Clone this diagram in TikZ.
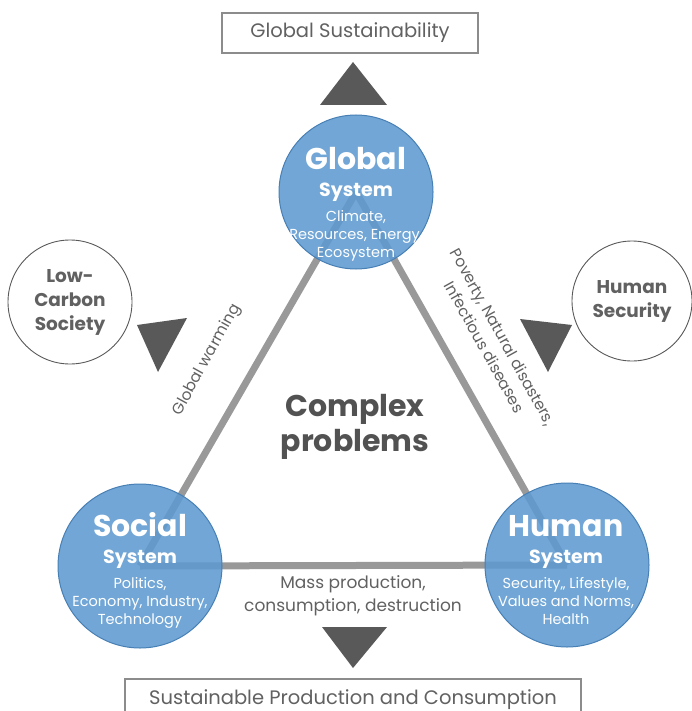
\documentclass[tikz,border=0pt]{standalone}
\usepackage{fontspec}
\setmainfont{Poppins}
\usepackage{xcolor}
\definecolor{SystemBlue}{RGB}{93,154,208}
\definecolor{SystemEdge}{RGB}{72,128,182}
\colorlet{LinkGray}{black!40}
\colorlet{ArrowGray}{black!65}
\colorlet{TextGray}{black!62}
\colorlet{FrameGray}{black!45}
\usetikzlibrary{backgrounds}

\tikzset{
  system/.style={circle, draw=SystemEdge, line width=1pt, fill=SystemBlue,
    fill opacity=0.88, minimum size=#1, inner sep=0pt},
  systemtext/.style={text=white, align=center, font=\fontsize{14.5}{18}\selectfont},
  goal/.style={circle, draw=ArrowGray, line width=0.9pt, fill=white,
    minimum size=#1, inner sep=0pt, text=TextGray, align=center,
    font=\bfseries\fontsize{18.5}{24}\selectfont},
  outcome/.style={draw=FrameGray, line width=1.6pt, fill=white,
    text=TextGray, font=\fontsize{19.5}{22}\selectfont},
  link/.style={draw=LinkGray, line width=7pt},
  edgetext/.style={text=TextGray, align=center, font=\fontsize{15.5}{21}\selectfont},
}

\newcommand{\systemlabel}[2]{%
  {\bfseries\fontsize{30}{30}\selectfont #1}\\[9pt]
  {\bfseries\fontsize{19}{19}\selectfont System}\\[7pt]
  #2}

\begin{document}
\begin{tikzpicture}[x=1pt, y=-1pt]
\useasboundingbox (0,0) rectangle (692,711);
\clip (0,0) rectangle (692,711);

% the three systems
\node[system=154pt] (glob) at (356,192) {};
\node[system=164pt] (soc) at (140,566) {};
\node[system=164pt] (hum) at (567,565) {};

\begin{scope}[on background layer]
\draw[link] (glob.center) -- (soc.center);
\draw[link] (glob.center) -- (hum.center);
\draw[link] (soc.center) -- (hum.center);
\end{scope}

\node[systemtext] (globtext) at (356,204)
  {\systemlabel{Global}{Climate,\\Resources, Energy,\\Ecosystem}};
\node[systemtext] (soctext) at (140,570)
  {\systemlabel{Social}{Politics,\\Economy, Industry,\\Technology}};
\node[systemtext] (humtext) at (566,570)
  {\systemlabel{Human}{Security,, Lifestyle,\\Values and Norms,\\Health}};

\node[text=black!68, align=center, font=\bfseries\fontsize{30}{35}\selectfont]
  (complex) at (355,427) {Complex\\problems};

% goals
\node[outcome, minimum width=256pt, minimum height=40pt] (sustain) at (350,33)
  {Global Sustainability};
\node[outcome, minimum width=456pt, minimum height=64pt, anchor=north] (spc) at (353,678)
  {};
\node[text=TextGray, font=\fontsize{19.5}{22}\selectfont] (spctext) at (353,700)
  {Sustainable Production and Consumption};
\node[goal=124pt] (lcs) at (70,302) {Low-\\Carbon\\Society};
\node[goal=120pt] (hsec) at (632,301) {Human\\Security};

% arrows
\coordinate (up1) at (353,62);
\fill[ArrowGray] (up1) -- (387,105) -- (320,105) -- cycle;
\coordinate (dn1) at (353,668);
\fill[ArrowGray] (dn1) -- (322,627) -- (387,627) -- cycle;
\coordinate (dn2) at (158,372);
\fill[ArrowGray] (dn2) -- (137,325) -- (187,318) -- cycle;
\coordinate (dn3) at (548,372);
\fill[ArrowGray] (dn3) -- (520,319) -- (572,325) -- cycle;

% problems on the links
\node[edgetext, rotate=61] (warming) at (207,360) {Global warming};
\node[edgetext, rotate=-61] (poverty) at (494,342)
  {Poverty, Natural disasters,\\Infectious diseases};
\node[edgetext, font=\fontsize{17}{23}\selectfont] (mass) at (353,596)
  {Mass production,\\consumption, destruction};

\end{tikzpicture}
\end{document}
